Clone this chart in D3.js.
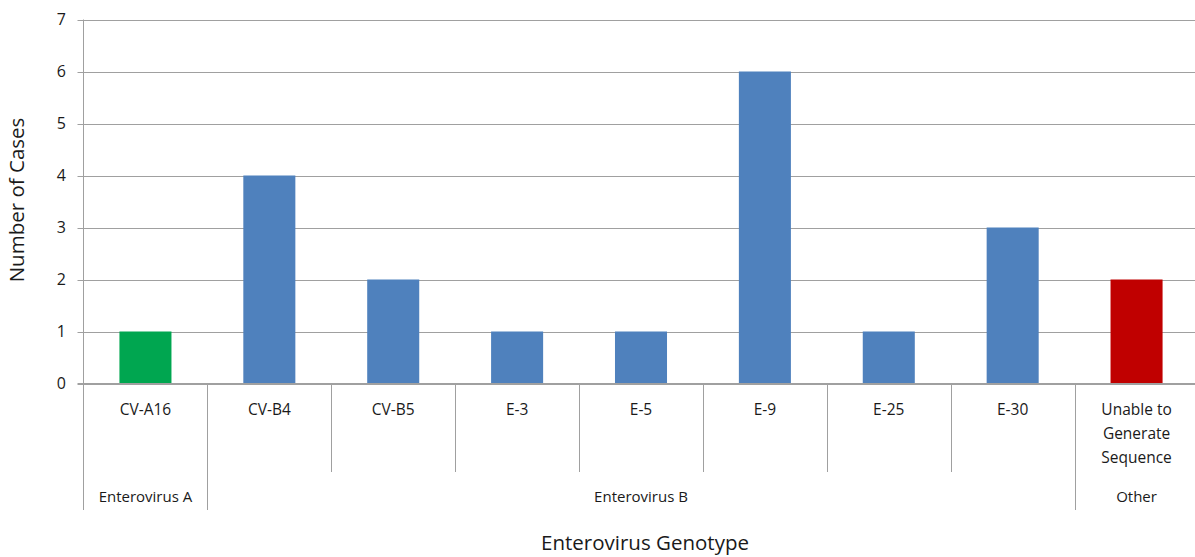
<!DOCTYPE html>
<html><head><meta charset="utf-8">
<script src="https://cdn.jsdelivr.net/npm/d3@7"></script>
<style>body{margin:0;background:#fff}svg{display:block}text{font-family:"Open Sans","Noto Sans",sans-serif;fill:#1a1a1a}</style>
</head><body><svg id="c" width="1195" height="557"></svg>
<script>
const categories = ["CV-A16","CV-B4","CV-B5","E-3","E-5","E-9","E-25","E-30","Unable to|Generate|Sequence"];
const values = [1,4,2,1,1,6,1,3,2];
const groups = ["Enterovirus A","Enterovirus B","Enterovirus B","Enterovirus B","Enterovirus B","Enterovirus B","Enterovirus B","Enterovirus B","Other"];
const groupNames = ["Enterovirus A","Enterovirus B","Other"];
const barColors = ["#00A650","#4F81BD","#4F81BD","#4F81BD","#4F81BD","#4F81BD","#4F81BD","#4F81BD","#C00000"];
const yTicks = [0,1,2,3,4,5,6,7];

const svg = d3.select("#c");
const L = 83.5, R = 1198.5, T = 19.5, B = 383.5;
const x = d3.scaleBand().domain(categories).range([L, R]).paddingInner(0.58).paddingOuter(0.29);
const xb = d3.scaleBand().domain(categories).range([L, R]);
const y = d3.scaleLinear().domain([0,7]).range([B, T]);
const grid = "#a0a0a0";

svg.append("g").selectAll("line").data(yTicks).join("line")
  .attr("x1", L-6).attr("x2", R).attr("y1", d=>Math.round(y(d))+0.5).attr("y2", d=>Math.round(y(d))+0.5)
  .attr("stroke", grid).attr("stroke-width", 1);
svg.append("g").selectAll("text").data(yTicks).join("text")
  .attr("x", 66).attr("y", d=>y(d)).attr("dy","0.35em").attr("text-anchor","end")
  .style("font-size","16px").text(d=>d);

svg.append("g").selectAll("rect").data(values).join("rect")
  .attr("x", (d,i)=>x(categories[i])).attr("width", x.bandwidth())
  .attr("y", d=>y(d)).attr("height", d=>B-y(d)).attr("fill",(d,i)=>barColors[i]);

svg.append("line").attr("x1",L-6).attr("x2",R).attr("y1",B).attr("y2",B).attr("stroke",grid);
svg.append("line").attr("x1",L).attr("x2",L).attr("y1",T).attr("y2",510).attr("stroke",grid);

categories.forEach((c,i)=>{
  if(i===0) return;
  const isGroupBoundary = groups[i] !== groups[i-1];
  const xx = Math.round(xb(c))+0.5;
  svg.append("line").attr("x1",xx).attr("x2",xx).attr("y1",B).attr("y2",isGroupBoundary?510:472).attr("stroke",grid);
});

const cl = svg.append("g");
categories.forEach((c,i)=>{
  const lines = c.split("|");
  const cx = xb(c)+xb.bandwidth()/2;
  const t = cl.append("text").attr("text-anchor","middle").style("font-size","15.5px");
  lines.forEach((ln,j)=>t.append("tspan").attr("x",cx).attr("y",415+j*24).text(ln));
});

groupNames.forEach(g=>{
  const idx = groups.map((d,i)=>d===g?i:-1).filter(i=>i>=0);
  const x0 = xb(categories[idx[0]]), x1 = xb(categories[idx[idx.length-1]])+xb.bandwidth();
  svg.append("text").attr("x",(x0+x1)/2).attr("y",502).attr("text-anchor","middle").style("font-size","15px").text(g);
});

svg.append("text").attr("x",645).attr("y",550).attr("text-anchor","middle").style("font-size","20.5px").text("Enterovirus  Genotype");
svg.append("text").attr("transform","translate(24,200) rotate(-90)").attr("text-anchor","middle").style("font-size","20.5px").text("Number of Cases");
</script></body></html>
